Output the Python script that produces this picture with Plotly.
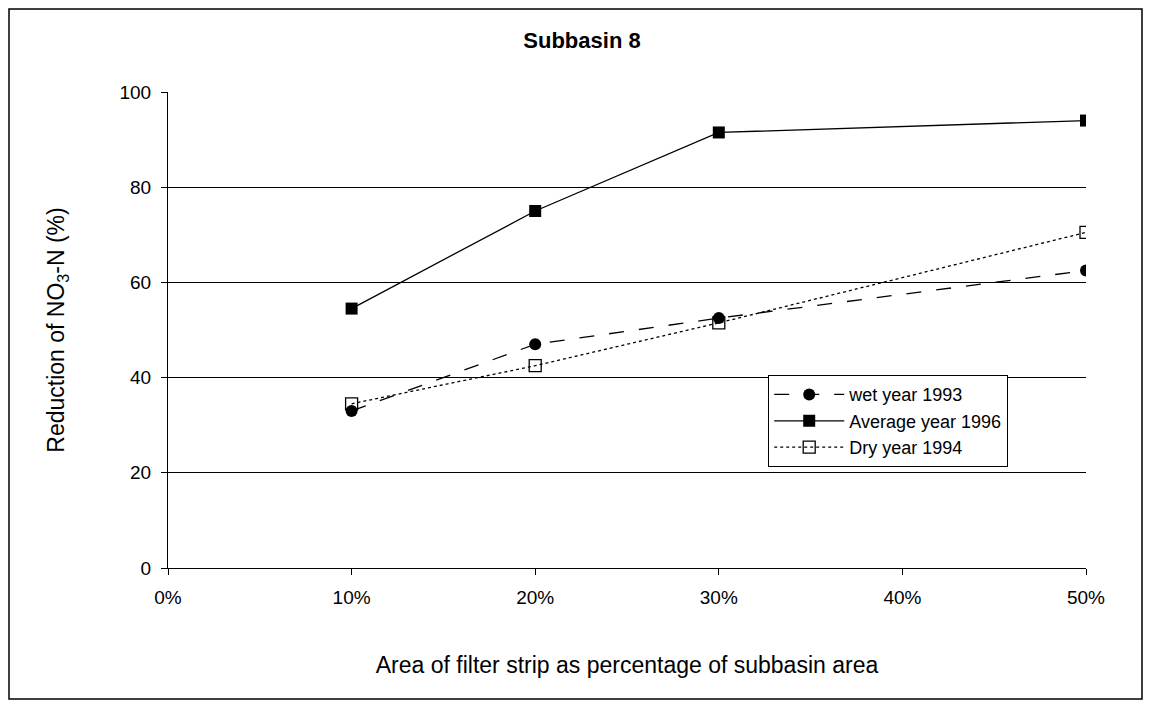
import plotly.graph_objects as go

x = [0.10, 0.20, 0.30, 0.50]
wet = [33, 47, 52.5, 62.5]
avg = [54.5, 75, 91.5, 94]
dry = [34.5, 42.5, 51.5, 70.5]

fig = go.Figure()
fig.add_trace(go.Scatter(x=x, y=wet, name="wet year 1993", mode="lines+markers",
    line=dict(color="black", width=1.3, dash="longdash"),
    marker=dict(symbol="circle", size=12, color="black")))
fig.add_trace(go.Scatter(x=x, y=avg, name="Average year 1996", mode="lines+markers",
    line=dict(color="black", width=1.3),
    marker=dict(symbol="square", size=12, color="black")))
fig.add_trace(go.Scatter(x=x, y=dry, name="Dry year 1994", mode="lines+markers",
    line=dict(color="black", width=1.3, dash="dot"),
    marker=dict(symbol="square-open", size=12, color="black", line=dict(width=1.3))))

W, H = 1135, 692
L, T = 160, 84
R, B = W - 1078, H - 560
pw, ph = W - L - R, H - T - B
fig.update_layout(
    width=W, height=H, margin=dict(l=L, r=R, t=T, b=B),
    paper_bgcolor="white", plot_bgcolor="white",
    font=dict(family="Liberation Sans, Arial", size=19, color="black"),
    title=dict(text="<b>Subbasin 8</b>", x=574/W, xanchor="center", y=1-32/H, yanchor="middle",
               font=dict(size=22)),
    xaxis=dict(range=[0, 0.5], tickformat=".0%", dtick=0.1, showgrid=False,
               showline=True, linecolor="black", ticks="outside", ticklen=6, tickcolor="black",
               ticklabelstandoff=6,
               title=dict(text="Area of filter strip as percentage of subbasin area", standoff=50),
               zeroline=False),
    yaxis=dict(range=[0, 100], dtick=20, showgrid=True, gridcolor="black", gridwidth=1.2,
               showline=True, linecolor="black", ticks="outside", ticklen=6, tickcolor="black",
               ticklabelstandoff=6,
               title=dict(text="Reduction of NO<sub>3</sub>-N (%)", standoff=48), zeroline=False),
    legend=dict(x=(760-L)/pw, y=(560-367)/ph, xanchor="left", yanchor="top",
                bordercolor="black", borderwidth=1.2, bgcolor="white",
                font=dict(size=18), tracegroupgap=20, itemwidth=70),
    showlegend=True,
)
fig.add_shape(type="rect", xref="paper", yref="paper",
    x0=(1-L)/pw, x1=(W-1-L)/pw, y0=-(B-1)/ph, y1=1+(T-1)/ph,
    line=dict(color="black", width=1.5))
fig.write_html("out.html")
